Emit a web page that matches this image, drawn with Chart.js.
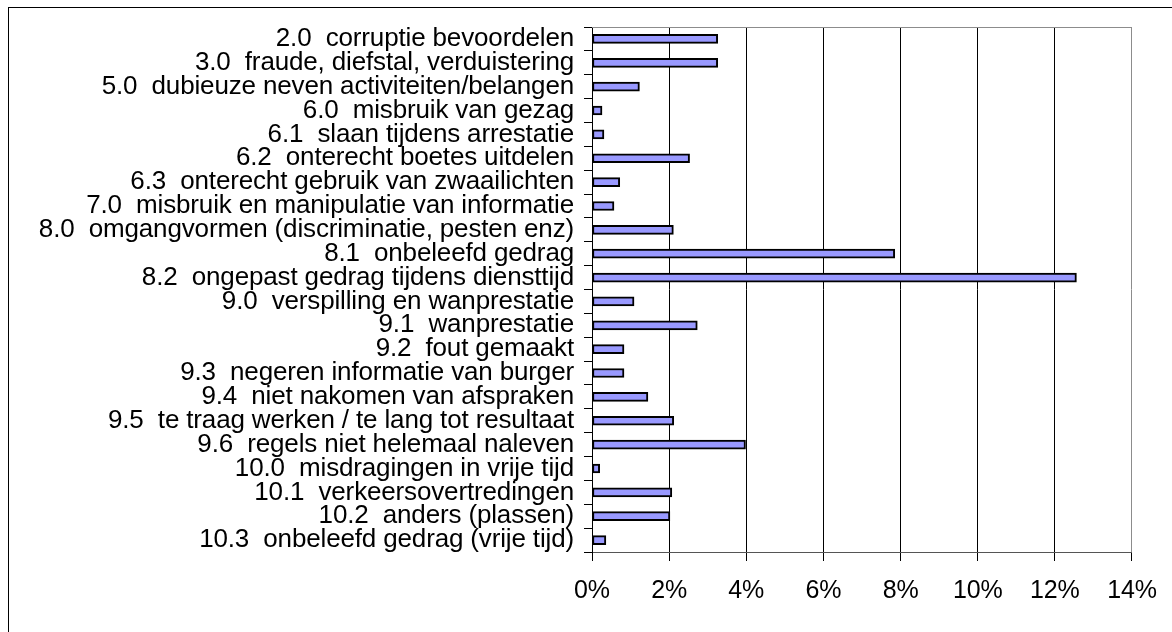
<!DOCTYPE html>
<html>
<head>
<meta charset="utf-8">
<script src="https://cdn.jsdelivr.net/npm/chart.js@4.4.1/dist/chart.umd.min.js"></script>
<style>
  html, body { margin: 0; padding: 0; background: #fff; overflow: hidden; }
  #frame { position: absolute; left: 8px; top: 7px; width: 2000px; height: 2000px; border: 1px solid #000; }
  #chart { position: absolute; left: 0; top: 0; }
</style>
</head>
<body>
<div id="frame"></div>
<canvas id="chart" width="1172" height="632"></canvas>
<script>
const categories = [
  "2.0  corruptie bevoordelen",
  "3.0  fraude, diefstal, verduistering",
  "5.0  dubieuze neven activiteiten/belangen",
  "6.0  misbruik van gezag",
  "6.1  slaan tijdens arrestatie",
  "6.2  onterecht boetes uitdelen",
  "6.3  onterecht gebruik van zwaailichten",
  "7.0  misbruik en manipulatie van informatie",
  "8.0  omgangvormen (discriminatie, pesten enz)",
  "8.1  onbeleefd gedrag",
  "8.2  ongepast gedrag tijdens diensttijd",
  "9.0  verspilling en wanprestatie",
  "9.1  wanprestatie",
  "9.2  fout gemaakt",
  "9.3  negeren informatie van burger",
  "9.4  niet nakomen van afspraken",
  "9.5  te traag werken / te lang tot resultaat",
  "9.6  regels niet helemaal naleven",
  "10.0  misdragingen in vrije tijd",
  "10.1  verkeersovertredingen",
  "10.2  anders (plassen)",
  "10.3  onbeleefd gedrag (vrije tijd)",
];

// percentages
const shares = [3.26, 3.26, 1.23, 0.26, 0.31, 2.53, 0.72, 0.57, 2.11, 7.85, 12.56, 1.09, 2.73, 0.83, 0.83, 1.45, 2.12, 3.98, 0.2, 2.07, 2.02, 0.36];

const xTicks = [0, 2, 4, 6, 8, 10, 12, 14];

const FONT = "'Liberation Sans', Arial, sans-serif";

// gray line along the top of the plot area
const plotFrame = {
  id: "plotFrame",
  beforeDraw(chart) {
    chart.ctx.letterSpacing = "-0.15px";
  },
  afterDraw(chart) {
    const { ctx, chartArea } = chart;
    ctx.save();
    ctx.strokeStyle = "#8c8c8c";
    ctx.lineWidth = 1;
    ctx.beginPath();
    ctx.moveTo(chartArea.left, chartArea.top + 0.5);
    ctx.lineTo(chartArea.right, chartArea.top + 0.5);
    ctx.stroke();
    ctx.restore();
  },
};

new Chart(document.getElementById("chart"), {
  type: "bar",
  data: {
    labels: categories,
    datasets: [
      {
        data: shares,
        backgroundColor: "#9999ff",
        borderColor: "#000",
        borderWidth: 2,
        borderSkipped: false,
        barThickness: 9,
      },
    ],
  },
  options: {
    indexAxis: "y",
    responsive: false,
    animation: false,
    devicePixelRatio: 1,
    layout: { padding: { top: 27, right: 38, left: 0, bottom: 0 } },
    plugins: { legend: { display: false }, tooltip: { enabled: false } },
    scales: {
      x: {
        min: 0,
        max: 14,
        afterBuildTicks: (scale) => {
          scale.ticks = xTicks.map((v) => ({ value: v }));
        },
        afterFit: (scale) => {
          scale.height = 80;
        },
        ticks: {
          color: "#000",
          padding: 15,
          maxRotation: 0,
          font: { family: FONT, size: 25 },
          callback: (v) => v + "%",
        },
        grid: {
          color: (ctx) => (ctx.tick && ctx.tick.value === 14 ? "#8c8c8c" : "#000"),
          tickColor: "#000",
          tickLength: 9,
          lineWidth: 1,
        },
        border: { color: "#555", width: 1 },
      },
      y: {
        afterFit: (scale) => {
          scale.width = 592;
        },
        ticks: {
          color: "#000",
          padding: 10,
          autoSkip: false,
          font: { family: FONT, size: 26 },
        },
        grid: {
          offset: true,
          drawOnChartArea: false,
          tickLength: 8,
          color: "#000",
        },
        border: { color: "#000", width: 1 },
      },
    },
  },
  plugins: [plotFrame],
});
</script>
</body>
</html>
